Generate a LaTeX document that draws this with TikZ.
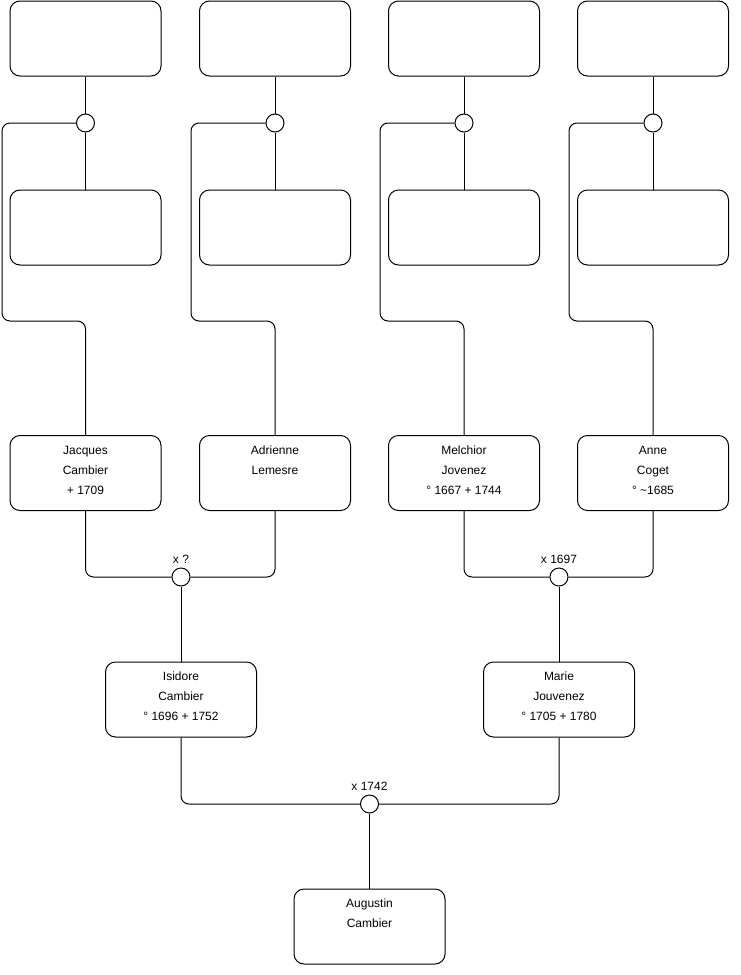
\documentclass[tikz,border=0pt]{standalone}
\usepackage{fontspec}
\setmainfont{Liberation Sans}
\usetikzlibrary{positioning}

\begin{document}
\begin{tikzpicture}[
  x=0.75pt, y=-0.75pt, line width=0.75pt,
  person/.style={draw, rounded corners=7.5pt, align=center, minimum width=113.25pt,
    minimum height=56.25pt, inner sep=0pt, text depth=4.5pt,
    font=\fontsize{9}{15}\selectfont},
  union/.style={draw, circle, minimum size=13.5pt, inner sep=0pt, fill=white},
  link/.style={rounded corners=6pt},
  date/.style={font=\fontsize{9}{11}\selectfont, inner sep=2.5pt}
]
\useasboundingbox (0,0) rectangle (740,975);

% unknown great-grandparents
\node[person] (jpa) at (85.5,38.5) {};
\node[person] (jma) at (85.5,227.5) {};
\node[person] (apa) at (275,38.5) {};
\node[person] (ama) at (275,227.5) {};
\node[person] (mpa) at (464,38.5) {};
\node[person] (mma) at (464,227.5) {};
\node[person] (cpa) at (653,38.5) {};
\node[person] (cma) at (653,227.5) {};

\node[union] (ujac) at (85.5,123) {};
\node[union] (uadr) at (275,123) {};
\node[union] (umel) at (464,123) {};
\node[union] (ucog) at (653,123) {};

% grandparents
\node[person] (jacques) at (85.5,473) {Jacques\\Cambier\\+ 1709};
\node[person] (adrienne) at (275,473) {Adrienne\\Lemesre\\\mbox{}};
\node[person] (melchior) at (464,473) {Melchior\\Jovenez\\° 1667 + 1744};
\node[person] (anne) at (653,473) {Anne\\Coget\\° \textasciitilde1685};

\node[union, label={[date]above:x ?}] (ucam) at (181,577) {};
\node[union, label={[date]above:x 1697}] (ujov) at (559,577) {};

% parents
\node[person] (isidore) at (181,699.5) {Isidore\\Cambier\\° 1696 + 1752};
\node[person] (marie) at (559,699.5) {Marie\\Jouvenez\\° 1705 + 1780};

\node[union, label={[date]above:x 1742}] (uisi) at (369.5,804) {};

\node[person] (augustin) at (369.5,926.5) {Augustin\\Cambier\\\mbox{}};

% free corners of the side lines
\coordinate (bjac) at (2,321);
\coordinate (badr) at (191,321);
\coordinate (bmel) at (380,321);
\coordinate (bcog) at (569,321);

\foreach \pa/\ma/\u/\b/\kid in {jpa/jma/ujac/bjac/jacques, apa/ama/uadr/badr/adrienne,
    mpa/mma/umel/bmel/melchior, cpa/cma/ucog/bcog/anne} {
  \draw (\pa) -- (\u);
  \draw (\u) -- (\ma);
  \draw[link] (\u.west) -| (\b) -| (\kid.north);
}

\draw[link] (jacques.south) |- (ucam.west);
\draw[link] (adrienne.south) |- (ucam.east);
\draw (ucam) -- (isidore);
\draw[link] (melchior.south) |- (ujov.west);
\draw[link] (anne.south) |- (ujov.east);
\draw (ujov) -- (marie);
\draw[link] (isidore.south) |- (uisi.west);
\draw[link] (marie.south) |- (uisi.east);
\draw (uisi) -- (augustin);
\end{tikzpicture}
\end{document}
